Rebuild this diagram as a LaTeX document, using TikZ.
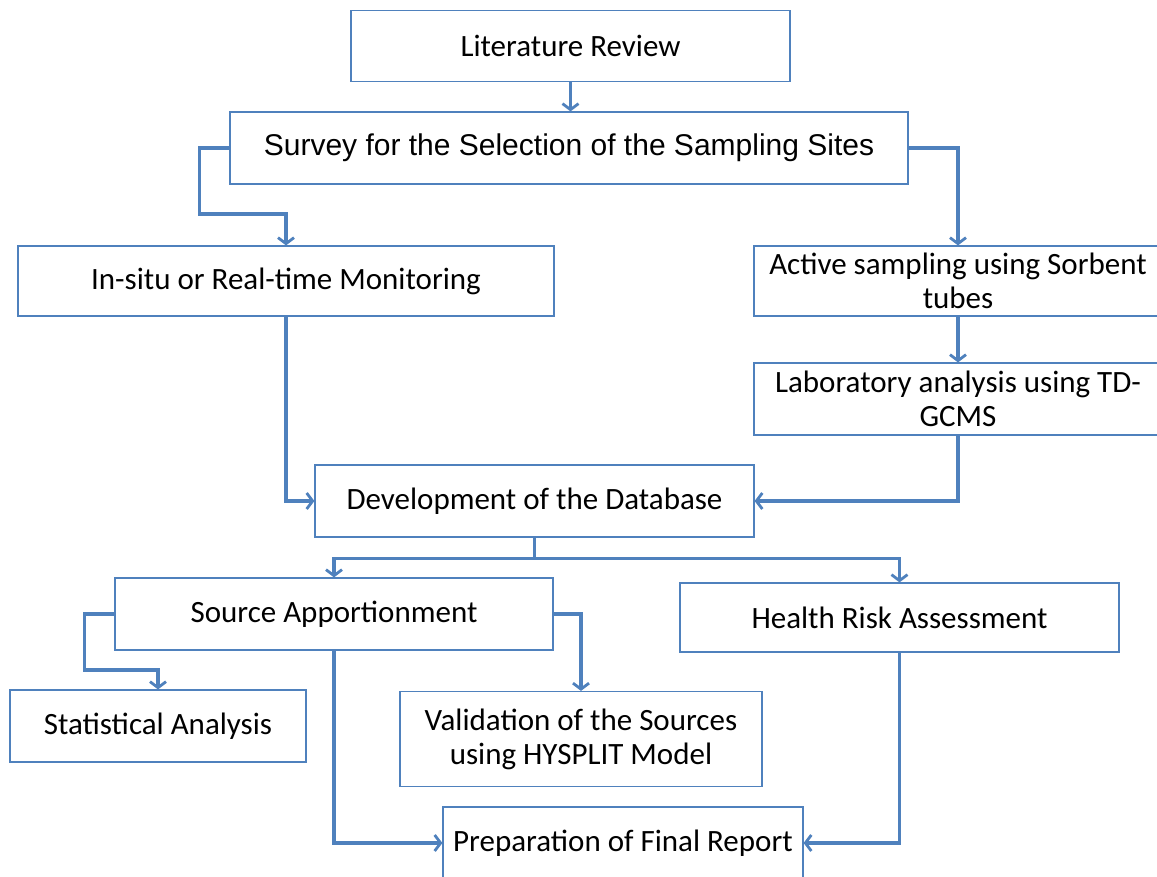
\documentclass[tikz,border=0pt]{standalone}
\usepackage{fontspec}
\setmainfont{Carlito}
\newfontfamily\surveyfont{Liberation Sans}
\usetikzlibrary{arrows.meta}
\definecolor{boxblue}{RGB}{79,129,189}

\begin{document}
\begin{tikzpicture}[x=1pt, y=-1pt,
  stage/.style={draw=boxblue, line width=1.2pt, fill=white, inner sep=2pt,
    minimum height=72pt, align=center, font=\fontsize{31}{34}\selectfont},
  link/.style={draw=boxblue, line width=3.2pt,
    -{Straight Barb[length=6pt, width=16pt, line width=2.8pt]}}]
  \useasboundingbox (0,0) rectangle (1157,877);
  % boxes, placed at pixel coordinates of the layout
  \node[stage, minimum width=439pt, minimum height=71pt] (lit) at (570.5,46) {Literature Review};
  \node[stage, minimum width=678pt, font=\surveyfont\fontsize{30}{32}\selectfont]
    (survey) at (569,148) {Survey for the Selection of the Sampling Sites};
  \node[stage, minimum width=536pt, minimum height=70pt] (insitu) at (286,281) {In-situ or Real-time Monitoring};
  \node[stage, minimum width=408pt, minimum height=70pt] (active) at (958,281) {Active sampling using Sorbent\\tubes};
  \node[stage, minimum width=408pt] (lab) at (958,399) {Laboratory analysis using TD-\\GCMS};
  \node[stage, minimum width=439pt] (dev) at (534.5,501) {Development of the Database};
  \node[stage, minimum width=438pt] (source) at (334,614) {Source Apportionment};
  \node[stage, minimum width=439pt, minimum height=69pt] (health) at (899.5,617.5) {Health Risk Assessment};
  \node[stage, minimum width=296pt] (stat) at (158,726) {Statistical Analysis};
  \node[stage, minimum width=362pt, minimum height=95pt] (valid) at (581,739) {Validation of the Sources\\using HYSPLIT Model};
  \node[stage, minimum width=360pt] (report) at (623,843) {Preparation of Final Report};
  % connectors
  \draw[link] (lit.south) -- (lit.south |- survey.north);
  \draw[link] (survey.west) -- ++(-30,0) -- ++(0,66) -| (insitu.north);
  \draw[link] (survey.east) -| (active.north);
  \draw[link] (active) -- (lab);
  \draw[link] (lab.south) |- (dev.east);
  \draw[link] (insitu.south) |- (dev.west);
  \draw[link] (dev.south) -- ++(0,21) -| (source.north);
  \draw[link] (dev.south) -- ++(0,21) -| (health.north);
  \draw[link] (source.west) -- ++(-30,0) -- ++(0,56) -| (stat.north);
  \draw[link] (source.east) -| (valid.north);
  \draw[link] (source.south) |- (report.west);
  \draw[link] (health.south) |- (report.east);
\end{tikzpicture}
\end{document}
